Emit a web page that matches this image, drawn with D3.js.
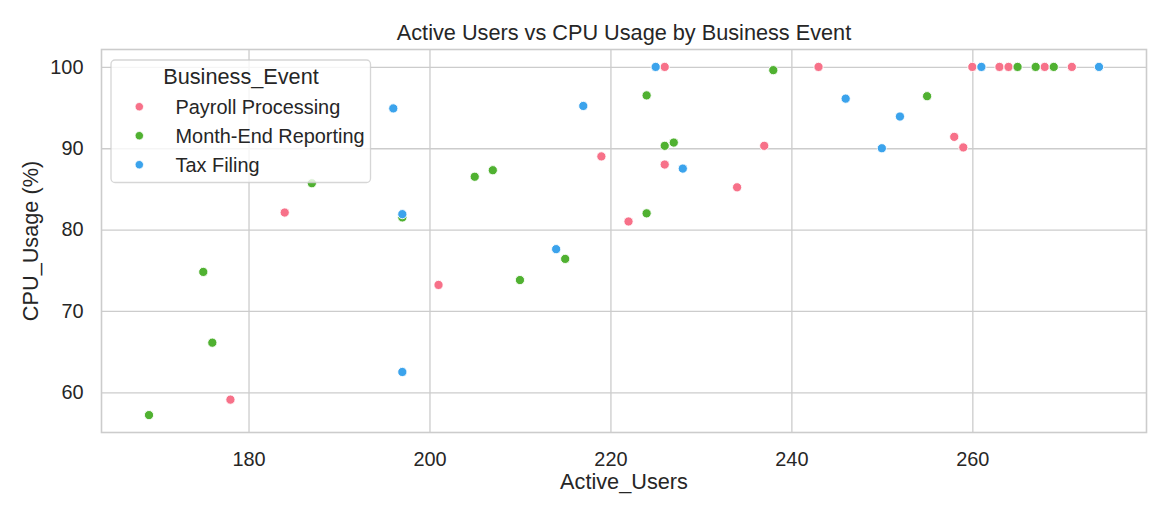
<!DOCTYPE html>
<html>
<head>
<meta charset="utf-8">
<script src="https://cdn.jsdelivr.net/npm/d3@7/dist/d3.min.js"></script>
<style>
  html, body { margin: 0; padding: 0; background: #ffffff; }
  svg { display: block; font-family: "Liberation Sans", Arial, sans-serif; }
</style>
</head>
<body>
<svg id="chart" width="1170" height="520"></svg>
<script>
// ---- Data ----
const categories = ["Payroll Processing", "Month-End Reporting", "Tax Filing"];
const colors = ["#f77189", "#50b131", "#3ba3ec"];

const payrollUsers = [184, 178, 201, 219, 222, 226, 226, 234, 237, 243, 258, 259, 260, 263, 264, 268, 271];
const payrollCpu   = [82.1, 59.1, 73.2, 89.0, 81.0, 100, 88.0, 85.2, 90.3, 100, 91.4, 90.1, 100, 100, 100, 100, 100];

const monthEndUsers = [169, 175, 176, 187, 197, 205, 207, 210, 215, 224, 224, 226, 227, 238, 255, 265, 267, 269];
const monthEndCpu   = [57.2, 74.8, 66.1, 85.7, 81.5, 86.5, 87.3, 73.8, 76.4, 96.5, 82.0, 90.3, 90.7, 99.6, 96.4, 100, 100, 100];

const taxUsers = [196, 197, 197, 214, 217, 225, 228, 246, 250, 252, 261, 274];
const taxCpu   = [94.9, 81.9, 62.5, 77.6, 95.2, 100, 87.5, 96.1, 90.0, 93.9, 100, 100];

const xTicks = [180, 200, 220, 240, 260];
const yTicks = [60, 70, 80, 90, 100];

const title = "Active Users vs CPU Usage by Business Event";
const xLabel = "Active_Users";
const yLabel = "CPU_Usage (%)";
const legendTitle = "Business_Event";

// ---- Build series ----
const seriesUsers = [payrollUsers, monthEndUsers, taxUsers];
const seriesCpu = [payrollCpu, monthEndCpu, taxCpu];
const points = [];
seriesUsers.forEach((us, si) => {
  us.forEach((u, i) => points.push({ x: u, y: seriesCpu[si][i], s: si }));
});

// ---- Layout ----
const svg = d3.select("#chart");
const L = 101.5, R = 1146.5, T = 49.5, B = 432.5;
const textColor = "#262626";
const gridColor = "#cccccc";

function padded(ext) {
  const m = (ext[1] - ext[0]) * 0.05;
  return [ext[0] - m, ext[1] + m];
}
const x = d3.scaleLinear().domain(padded(d3.extent(points, d => d.x))).range([L, R]);
const y = d3.scaleLinear().domain(padded(d3.extent(points, d => d.y))).range([B, T]);

// Grid via axes
const gx = svg.append("g").attr("transform", `translate(0,${B})`)
  .call(d3.axisBottom(x).tickValues(xTicks).tickSize(-(B - T)).tickPadding(19).tickFormat(d3.format("d")));
const gy = svg.append("g").attr("transform", `translate(${L},0)`)
  .call(d3.axisLeft(y).tickValues(yTicks).tickSize(-(R - L)).tickPadding(18).tickFormat(d3.format("d")));

[gx, gy].forEach(g => {
  g.select(".domain").remove();
  g.selectAll(".tick line").attr("stroke", gridColor).attr("stroke-width", 1.3);
  g.selectAll(".tick text").attr("fill", textColor).attr("font-size", "19.9px")
    .attr("font-family", "'Liberation Sans', Arial, sans-serif");
});
gx.selectAll(".tick text").attr("dy", "0.71em");

// Spines
svg.append("rect").attr("x", L).attr("y", T).attr("width", R - L).attr("height", B - T)
  .attr("fill", "none").attr("stroke", gridColor).attr("stroke-width", 1.6);

// Points
svg.append("g").selectAll("circle").data(points).join("circle")
  .attr("cx", d => x(d.x)).attr("cy", d => y(d.y)).attr("r", 4.6)
  .attr("fill", d => colors[d.s]).attr("stroke", "#ffffff").attr("stroke-width", 0.9);

// Title & labels
svg.append("text").attr("x", (L + R) / 2).attr("y", 39.5).attr("text-anchor", "middle")
  .attr("font-size", "21.7px").attr("fill", textColor).text(title);
svg.append("text").attr("x", (L + R) / 2).attr("y", 489).attr("text-anchor", "middle")
  .attr("font-size", "21.7px").attr("fill", textColor).text(xLabel);
svg.append("text").attr("transform", `translate(37.5,${(T + B) / 2}) rotate(-90)`)
  .attr("text-anchor", "middle").attr("font-size", "21.7px").attr("fill", textColor).text(yLabel);

// Legend
const lg = svg.append("g");
lg.append("rect").attr("x", 111).attr("y", 60).attr("width", 259.5).attr("height", 122.5)
  .attr("rx", 4).attr("fill", "#ffffff").attr("fill-opacity", 0.8)
  .attr("stroke", gridColor).attr("stroke-opacity", 0.8).attr("stroke-width", 1.3);
lg.append("text").attr("x", 241).attr("y", 83.5).attr("text-anchor", "middle")
  .attr("font-size", "21.7px").attr("fill", textColor).text(legendTitle);
categories.forEach((c, i) => {
  const cy = 106.7 + i * 29;
  lg.append("circle").attr("cx", 139.3).attr("cy", cy).attr("r", 4.2)
    .attr("fill", colors[i]).attr("stroke", "#ffffff").attr("stroke-width", 0.8);
  lg.append("text").attr("x", 175.5).attr("y", cy + 6.8)
    .attr("font-size", "19.9px").attr("fill", textColor).text(c);
});
</script>
</body>
</html>
